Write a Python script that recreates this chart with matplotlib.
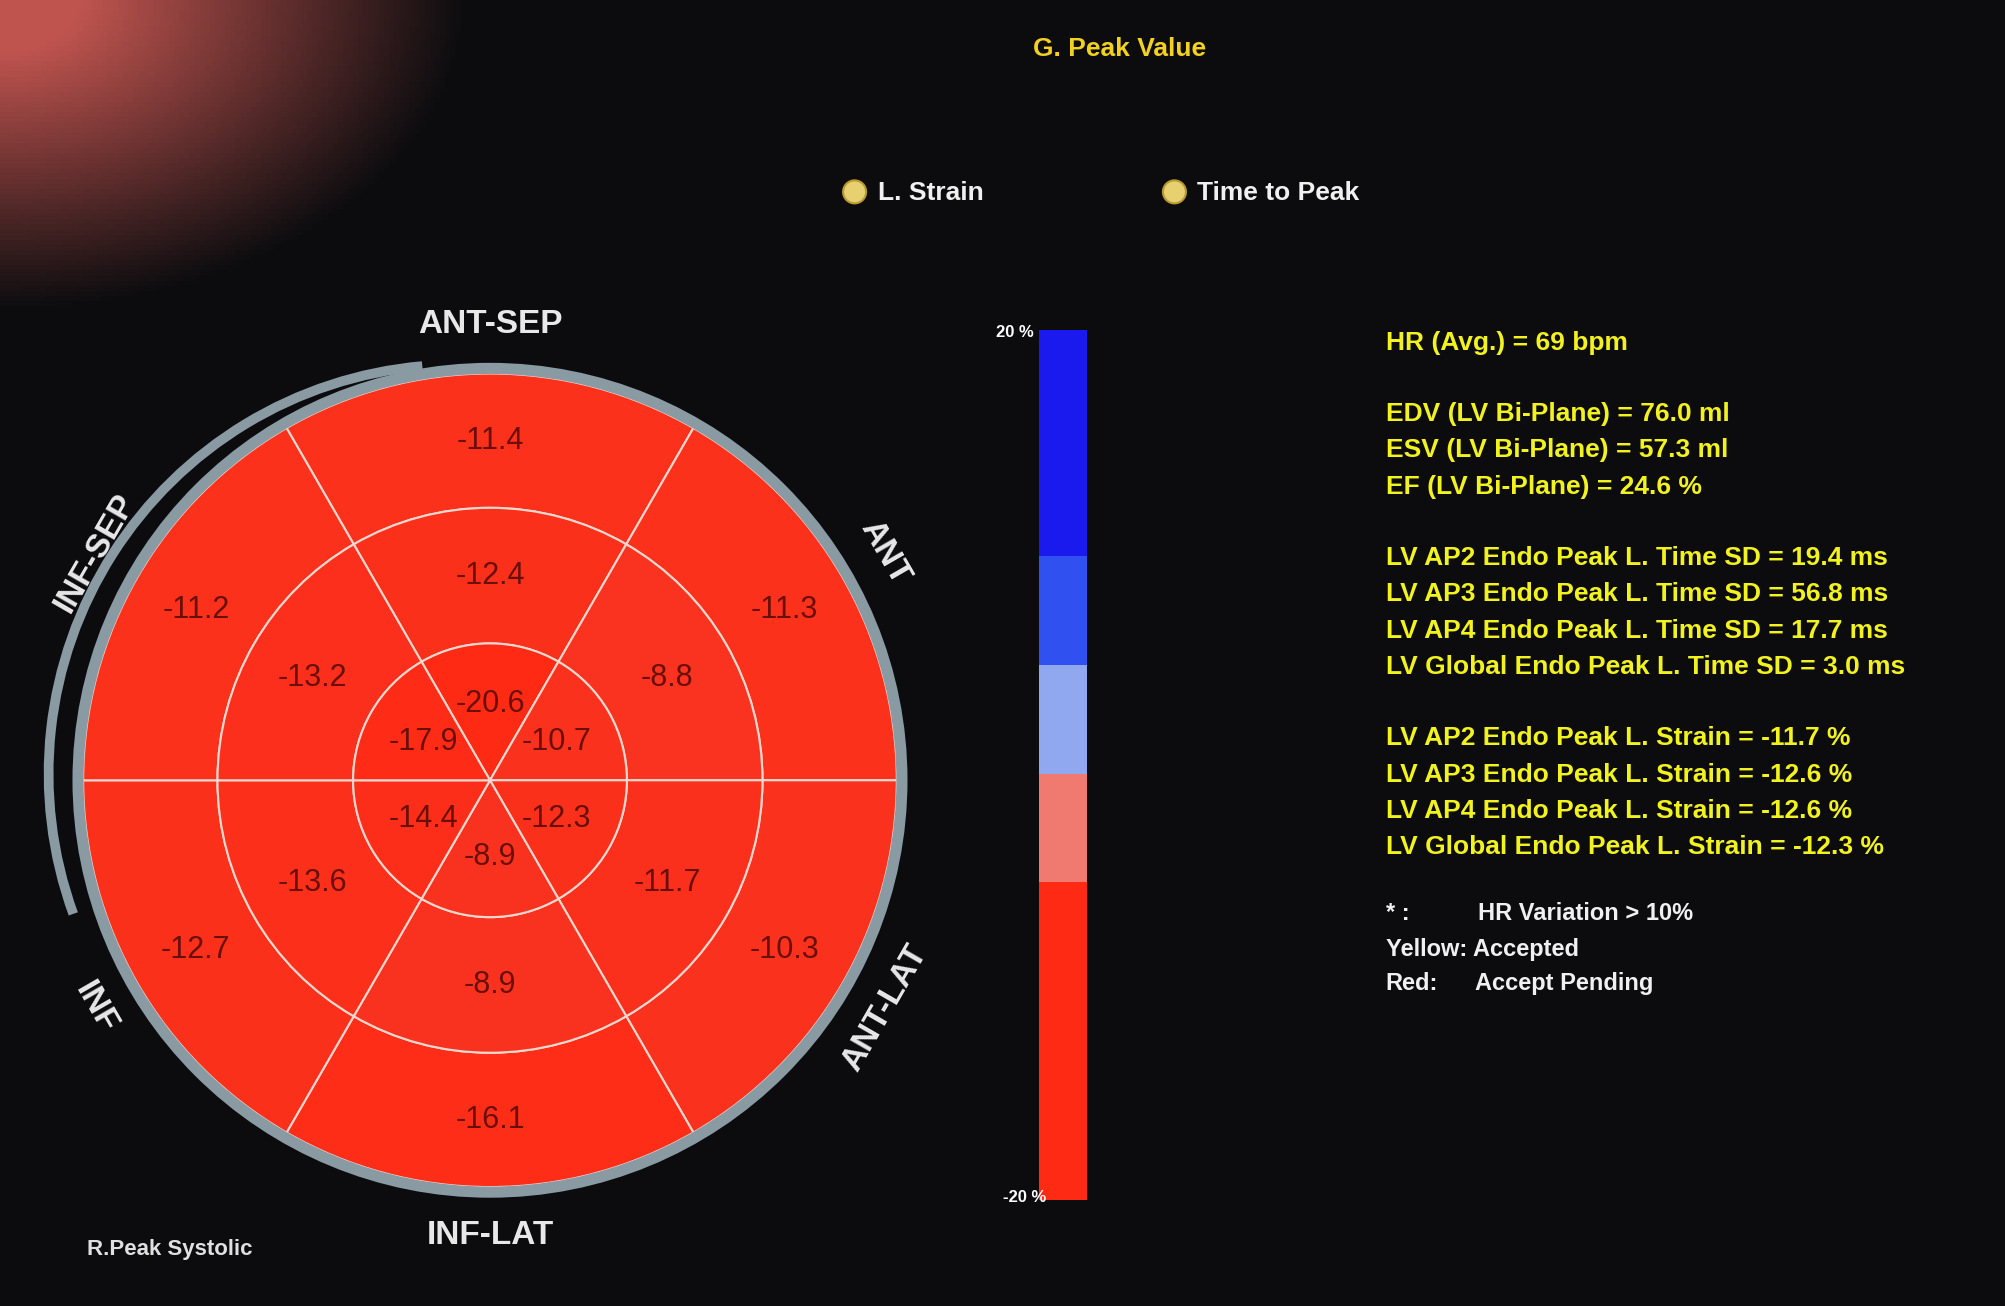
import numpy as np
import matplotlib
matplotlib.use("Agg")
import matplotlib.pyplot as plt
from matplotlib.patches import Wedge, Circle, Rectangle, Arc
from matplotlib.colors import LinearSegmentedColormap

# ---- data ----
seg_centers = [90, 30, -30, -90, -150, 150]          # degrees, segment centres
basal = [-11.4, -11.3, -10.3, -16.1, -12.7, -11.2]
mid = [-12.4, -8.8, -11.7, -8.9, -13.6, -13.2]
apical = [-20.6, -10.7, -12.3, -8.9, -14.4, -17.9]
wall_names = ["ANT-SEP", "ANT", "ANT-LAT", "INF-LAT", "INF", "INF-SEP"]
cbar_colors = ["#ff2a14", "#f07a70", "#8fa8f0", "#3050f0", "#1a1aee"]
cbar_bounds = [-20, -5.4, -0.4, 4.6, 9.6, 20]
info_lines = [
    ("HR (Avg.) = 69 bpm", 0),
    ("EDV (LV Bi-Plane) = 76.0 ml", 1), ("ESV (LV Bi-Plane) = 57.3 ml", 1), ("EF (LV Bi-Plane) = 24.6 %", 1),
    ("LV AP2 Endo Peak L. Time SD = 19.4 ms", 2), ("LV AP3 Endo Peak L. Time SD = 56.8 ms", 2),
    ("LV AP4 Endo Peak L. Time SD = 17.7 ms", 2), ("LV Global Endo Peak L. Time SD = 3.0 ms", 2),
    ("LV AP2 Endo Peak L. Strain = -11.7 %", 3), ("LV AP3 Endo Peak L. Strain = -12.6 %", 3),
    ("LV AP4 Endo Peak L. Strain = -12.6 %", 3), ("LV Global Endo Peak L. Strain = -12.3 %", 3),
]

W, H = 1568, 1021
fig = plt.figure(figsize=(20.06, 13.06), dpi=100)
ax = fig.add_axes([0, 0, 1, 1])
ax.set_xlim(0, W); ax.set_ylim(0, H); ax.axis("off")
fig.patch.set_facecolor("black")

# background with reddish glow top-left
yy, xx = np.mgrid[0:H:4, 0:W:4]
d = np.sqrt(((xx - 0) / 300.0) ** 2 + ((yy - H) / 200.0) ** 2)
glow = np.clip(1.2 - d, 0, 1)
img = np.zeros(xx.shape + (3,))
img[..., 0] = 0.05 + 0.70 * glow
img[..., 1] = 0.05 + 0.28 * glow
img[..., 2] = 0.06 + 0.25 * glow
ax.imshow(img, extent=[0, W, 0, H], origin="lower", zorder=0, aspect="auto")

fam = ["Liberation Sans Narrow", "Liberation Sans", "DejaVu Sans"]
cmap = LinearSegmentedColormap.from_list("s", ["#ff2a14", "#f04030", "#f5a29a", "#8fa8f0", "#1a1aee"])

cx, cy = 383, H - 610
R3, R2, R1 = 318, 213, 107
def col(v):
    return cmap((v + 20) / 40 * 0.35)

# double-image ring artifact
ax.add_patch(Arc((cx - 25, cy + 5), 2 * (R3 + 2), 2 * (R3 + 2), theta1=95, theta2=200,
                 color="#8a9aa3", lw=7, zorder=1))
for vals, r0, r1 in [(basal, R2, R3), (mid, R1, R2), (apical, 0, R1)]:
    for c, v in zip(seg_centers, vals):
        ax.add_patch(Wedge((cx, cy), r1, c - 30, c + 30, width=r1 - r0,
                           facecolor=col(v), edgecolor="#f3d8d0", lw=1.5, zorder=2))
        rm = (r0 + r1) / 2 if r0 > 0 else 60
        a = np.radians(c)
        ax.text(cx + rm * np.cos(a), cy + rm * np.sin(a), f"{v:.1f}", ha="center", va="center",
                fontsize=22, color="#6a0e08", family=fam, zorder=3)
ax.add_patch(Circle((cx, cy), R3 + 4, fill=False, ec="#8a9aa3", lw=8, zorder=4))

# wall labels at segment centres, tangent to the ring
for c, name in zip(seg_centers, wall_names):
    a = np.radians(c)
    r = R3 + 38
    rot = c - 90 if c > 0 else c + 90
    ax.text(cx + r * np.cos(a), cy + r * np.sin(a), name, ha="center", va="center",
            rotation=rot, fontsize=24, fontweight="bold", color="#e8e8e8", family=fam, zorder=5)

# colour bar
x0, x1 = 812, 850
yb, yt = H - 938, H - 258
for i in range(len(cbar_colors)):
    y0 = yb + (cbar_bounds[i] + 20) / 40 * (yt - yb)
    y1 = yb + (cbar_bounds[i + 1] + 20) / 40 * (yt - yb)
    ax.add_patch(Rectangle((x0, y0), x1 - x0, y1 - y0, facecolor=cbar_colors[i], edgecolor="none", zorder=2))
ax.text(808, yt - 2, "20 %", ha="right", va="center", fontsize=12, fontweight="bold", color="white", family=fam)
ax.text(818, yb + 2, "-20 %", ha="right", va="center", fontsize=12, fontweight="bold", color="white", family=fam)

# titles / legend
ax.text(875, H - 38, "G. Peak Value", ha="center", va="center", fontsize=19, fontweight="bold", color="#f2d21e", family=fam)
for xl, lab in [(668, "L. Strain"), (918, "Time to Peak")]:
    ax.add_patch(Circle((xl, H - 150), 9, facecolor="#e6d070", edgecolor="#b89a30", lw=1.5, zorder=3))
    ax.text(xl + 18, H - 151, lab, ha="left", va="center", fontsize=19, fontweight="bold", color="#f0f0f0", family=fam)

# info text
y = H - 268
prev = 0
for s, g in info_lines:
    if g != prev:
        y -= 27
        prev = g
    ax.text(1083, y, s, ha="left", va="center", fontsize=19, fontweight="bold", color="#f2f21e", family=fam)
    y -= 28.5
ax.text(1083, H - 714, "* :", ha="left", va="center", fontsize=17, fontweight="bold", color="#f0f0f0", family=fam)
ax.text(1155, H - 714, "HR Variation > 10%", ha="left", va="center", fontsize=17, fontweight="bold", color="#f0f0f0", family=fam)
ax.text(1083, H - 742, "Yellow: Accepted", ha="left", va="center", fontsize=17, fontweight="bold", color="#f0f0f0", family=fam)
ax.text(1083, H - 769, "Red:", ha="left", va="center", fontsize=17, fontweight="bold", color="#f0f0f0", family=fam)
ax.text(1153, H - 769, "Accept Pending", ha="left", va="center", fontsize=17, fontweight="bold", color="#f0f0f0", family=fam)
ax.text(68, H - 977, "R.Peak Systolic", ha="left", va="center", fontsize=16, fontweight="bold", color="#e0e0e0", family=fam)

fig.savefig("out.png", dpi=100, facecolor="black")
